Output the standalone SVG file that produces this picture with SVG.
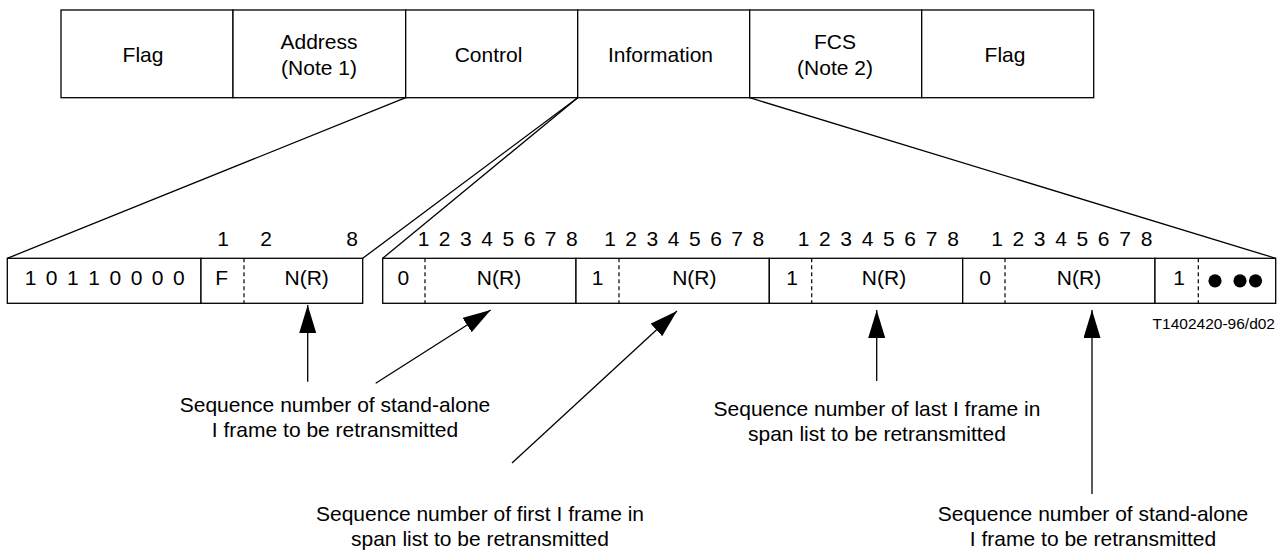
<svg xmlns="http://www.w3.org/2000/svg" width="1287" height="551" viewBox="0 0 1287 551">
<style>
  .box{fill:#fff;stroke:#000;stroke-width:1.3}
  .ln{fill:none;stroke:#000;stroke-width:1.3}
  .dash{fill:none;stroke:#000;stroke-width:1.2;stroke-dasharray:4 3}
  .t{font-family:"Liberation Sans",Arial,sans-serif;font-size:21px;fill:#000;text-anchor:middle}
  .small{font-family:"Liberation Sans",Arial,sans-serif;font-size:15.5px;fill:#000;text-anchor:end}
  .arrow{fill:none;stroke:#000;stroke-width:1.3}
</style>
<defs>
  <marker id="ah" markerUnits="userSpaceOnUse" viewBox="0 0 28 17" refX="28" refY="8.5" markerWidth="28" markerHeight="17" orient="auto">
    <path d="M0,0 L28,8.5 L0,17 z" fill="#000"/>
  </marker>
</defs>
<rect width="1287" height="551" fill="#fff"/>

<!-- Top frame -->
<g id="frame-flag1"><rect class="box" x="61" y="10" width="172" height="87.7"/><text class="t" x="143" y="61.5">Flag</text></g>
<g id="frame-address"><rect class="box" x="233" y="10" width="172.7" height="87.7"/><text class="t" x="319" y="48.5">Address</text><text class="t" x="319" y="74.5">(Note 1)</text></g>
<g id="frame-control"><rect class="box" x="405.7" y="10" width="172" height="87.7"/><text class="t" x="488.5" y="61.5">Control</text></g>
<g id="frame-information"><rect class="box" x="577.7" y="10" width="172" height="87.7"/><text class="t" x="660.5" y="61.5">Information</text></g>
<g id="frame-fcs"><rect class="box" x="749.7" y="10" width="172" height="87.7"/><text class="t" x="835" y="48.5">FCS</text><text class="t" x="835" y="74.5">(Note 2)</text></g>
<g id="frame-flag2"><rect class="box" x="921.7" y="10" width="172" height="87.7"/><text class="t" x="1005" y="61.5">Flag</text></g>

<!-- Expansion connectors -->
<g id="connectors">
  <line class="ln" x1="405.7" y1="97.7" x2="7.3" y2="258.3"/>
  <line class="ln" x1="577.7" y1="97.7" x2="362.7" y2="258.3"/>
  <line class="ln" x1="577.7" y1="97.7" x2="382.7" y2="258.3"/>
  <line class="ln" x1="749.7" y1="97.7" x2="1275.7" y2="258.3"/>
  <line class="arrow" x1="307.7" y1="381.7" x2="307.7" y2="305" marker-end="url(#ah)"/>
  <line class="arrow" x1="375.7" y1="383.3" x2="490.7" y2="310" marker-end="url(#ah)"/>
  <line class="arrow" x1="512" y1="463" x2="677" y2="311" marker-end="url(#ah)"/>
  <line class="arrow" x1="876.7" y1="381" x2="876.7" y2="310" marker-end="url(#ah)"/>
  <line class="arrow" x1="1092" y1="494" x2="1092" y2="310" marker-end="url(#ah)"/>
</g>

<!-- Control field expansion -->
<g id="control-field">
  <rect class="box" x="7.3" y="258.3" width="193.7" height="45"/>
  <rect class="box" x="201" y="258.3" width="161.7" height="45"/>
  <line class="dash" x1="244" y1="258.3" x2="244" y2="303.3"/>
  <text class="t" x="30.5 51.7 72.9 94.1 115.3 136.5 157.7 178.9" y="284.5">10110000</text>
  <text class="t" x="221.7" y="284.5">F</text>
  <text class="t" x="306.7" y="284.5">N(R)</text>
  <text class="t" x="223" y="246">1</text>
  <text class="t" x="266" y="246">2</text>
  <text class="t" x="352" y="246">8</text>
</g>

<!-- Information field expansion -->
<g id="info-octet1">
  <rect class="box" x="382.7" y="258.3" width="193.3" height="45"/>
  <line class="dash" x1="425" y1="258.3" x2="425" y2="303.3"/>
  <text class="t" x="403.3" y="284.5">0</text>
  <text class="t" x="499" y="284.5">N(R)</text>
  <text class="t" x="423.5 444.7 465.9 487.1 508.3 529.5 550.7 571.9" y="246">12345678</text>
</g>
<g id="info-octet2">
  <rect class="box" x="576" y="258.3" width="193.3" height="45"/>
  <line class="dash" x1="619" y1="258.3" x2="619" y2="303.3"/>
  <text class="t" x="597.5" y="284.5">1</text>
  <text class="t" x="694.3" y="284.5">N(R)</text>
  <text class="t" x="610 631.2 652.4 673.6 694.8 716 737.2 758.4" y="246">12345678</text>
</g>
<g id="info-octet3">
  <rect class="box" x="769.3" y="258.3" width="193.4" height="45"/>
  <line class="dash" x1="811.7" y1="258.3" x2="811.7" y2="303.3"/>
  <text class="t" x="792" y="284.5">1</text>
  <text class="t" x="884" y="284.5">N(R)</text>
  <text class="t" x="803.5 824.8 846.2 867.5 888.9 910.2 931.6 953" y="246">12345678</text>
</g>
<g id="info-octet4">
  <rect class="box" x="962.7" y="258.3" width="192.3" height="45"/>
  <line class="dash" x1="1005" y1="258.3" x2="1005" y2="303.3"/>
  <text class="t" x="985" y="284.5">0</text>
  <text class="t" x="1079" y="284.5">N(R)</text>
  <text class="t" x="997 1018.3 1039.7 1061 1082.4 1103.7 1125.1 1146.5" y="246">12345678</text>
</g>
<g id="info-octet5">
  <rect class="box" x="1155" y="258.3" width="120.7" height="45"/>
  <line class="dash" x1="1198.3" y1="258.3" x2="1198.3" y2="303.3"/>
  <text class="t" x="1179" y="284.5">1</text>
  <circle cx="1215" cy="280.8" r="6.6" fill="#000"/>
  <circle cx="1240" cy="280.8" r="6.6" fill="#000"/>
  <circle cx="1255.5" cy="280.8" r="6.6" fill="#000"/>
</g>

<text class="small" x="1275" y="329">T1402420-96/d02</text>

<!-- Labels -->
<g id="label-standalone-1">
  <text class="t" x="335" y="411.7">Sequence number of stand-alone</text>
  <text class="t" x="335" y="436.7">I frame to be retransmitted</text>
</g>
<g id="label-first">
  <text class="t" x="480" y="521">Sequence number of first I frame in</text>
  <text class="t" x="480" y="546">span list to be retransmitted</text>
</g>
<g id="label-last">
  <text class="t" x="877" y="415.5">Sequence number of last I frame in</text>
  <text class="t" x="877" y="440.5">span list to be retransmitted</text>
</g>
<g id="label-standalone-2">
  <text class="t" x="1093" y="521">Sequence number of stand-alone</text>
  <text class="t" x="1093" y="546">I frame to be retransmitted</text>
</g>
</svg>
